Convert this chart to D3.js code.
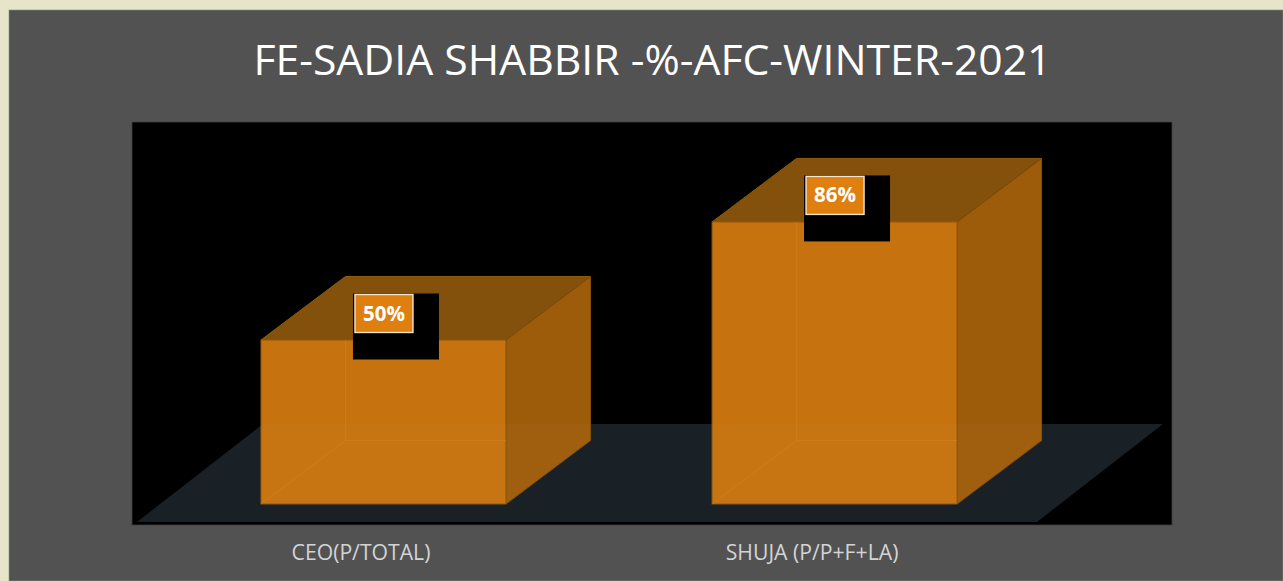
<!DOCTYPE html>
<html><head><meta charset="utf-8">
<script src="https://cdn.jsdelivr.net/npm/d3@7"></script>
<style>html,body{margin:0;padding:0;background:#e6e5c9;overflow:hidden}svg{display:block}text{font-family:"Open Sans",sans-serif}</style>
</head><body><div id="chart"></div>
<script>
const categories = ["CEO(P/TOTAL)", "SHUJA (P/P+F+LA)"];
const seriesValues = [50, 86];
const chartTitle = "FE-SADIA SHABBIR -%-AFC-WINTER-2021";

const W = 1283, H = 581;
const depthX = 84.5, depthY = -63.5;
const svg = d3.select("#chart").append("svg").attr("width", W).attr("height", H);

svg.append("rect").attr("x", 9).attr("y", 10).attr("width", W - 9).attr("height", H - 10)
  .attr("fill", "#525252").attr("stroke", "#8f8f7c").attr("stroke-width", 0.6);
svg.append("rect").attr("x", 132).attr("y", 122).attr("width", 1040).attr("height", 403)
  .attr("fill", "#000").attr("stroke", "#3c3c3c").attr("stroke-width", 0.8);

svg.append("text").attr("x", 652.5).attr("y", 74.5).attr("text-anchor", "middle")
  .attr("font-size", 42.7).attr("fill", "#fff").text(chartTitle);

const x = d3.scaleBand().domain(categories).range([137, 1037])
  .paddingInner(0.4568).paddingOuter(0.226).align(0.608);
const y = d3.scaleLinear().domain([0, 100]).range([504, 176]);
const poly = pts => pts.map(p => p.join(",")).join(" ");

// floor
const fy0 = 522, fy1 = 424;
const floorPts = poly([[137, fy0], [1037, fy0], [1163, fy1], [263, fy1]]);
svg.append("polygon").attr("fill", "#1a2126").attr("points", floorPts);
svg.append("clipPath").attr("id", "floorClip").append("polygon").attr("points", floorPts);

const bars = svg.selectAll("g.bar").data(categories.map((c, i) => ({c, v: seriesValues[i]})))
  .join("g").attr("class", "bar");

bars.each(function(d) {
  const g = d3.select(this);
  const l = x(d.c), r = l + x.bandwidth(), b = y(0), t = y(d.v);
  const dx = depthX, dy = depthY;
  // top face
  g.append("polygon").attr("points", poly([[l, t], [r, t], [r + dx, t + dy], [l + dx, t + dy]]))
    .attr("fill", "#83510b").attr("stroke", "#8f5a0c").attr("stroke-width", 1);
  // right face
  g.append("polygon").attr("points", poly([[r, t], [r + dx, t + dy], [r + dx, b + dy], [r, b]]))
    .attr("fill", "#9d5c0a").attr("stroke", "#85510a").attr("stroke-width", 1);
  // front face
  g.append("rect").attr("x", l).attr("y", t).attr("width", r - l).attr("height", b - t)
    .attr("fill", "#c6720e").attr("stroke", "#8a560c").attr("stroke-width", 1);
  // the floor shows faintly through the translucent box
  const through = g.append("g").attr("clip-path", "url(#floorClip)");
  through.append("rect").attr("x", l).attr("y", t).attr("width", r - l).attr("height", b - t)
    .attr("fill", "#fff").attr("opacity", 0.025);
  through.append("polygon").attr("points", poly([[r, t], [r + dx, t + dy], [r + dx, b + dy], [r, b]]))
    .attr("fill", "#fff").attr("opacity", 0.025);
  // edges of the back of the box, seen through the front
  g.append("path").attr("fill", "none").attr("stroke", "#d8841a").attr("stroke-width", 1).attr("opacity", 0.45)
    .attr("d", `M${l + dx},${t}V${b + dy}H${r}M${l + dx},${b + dy}L${l},${b}`);
  // right-face edge shade
  g.append("line").attr("x1", r).attr("x2", r + dx).attr("y1", t).attr("y2", t + dy)
    .attr("stroke", "#7a4a08").attr("stroke-width", 1);
  // label shadow block and label
  const bx = l + 92, by = t + dy + 17;
  g.append("rect").attr("x", bx).attr("y", by).attr("width", 86).attr("height", 66).attr("fill", "#000");
  g.append("rect").attr("x", bx + 2).attr("y", by + 1).attr("width", 58).attr("height", 38)
    .attr("fill", "#df7f10").attr("stroke", "#f3e6cf").attr("stroke-width", 1.4);
  g.append("text").attr("x", bx + 31).attr("y", by + 27).attr("text-anchor", "middle")
    .attr("font-size", 20.5).attr("font-weight", 700).attr("fill", "#fff").text(d.v + "%");
});

// category labels
svg.selectAll("text.cat").data(categories).join("text").attr("class", "cat")
  .attr("x", d => x(d) + x.bandwidth() / 2 - 22.5)
  .attr("y", 559.5).attr("text-anchor", "middle")
  .attr("font-size", 21.2).attr("fill", "#d4d4d4").text(d => d);
</script></body></html>
